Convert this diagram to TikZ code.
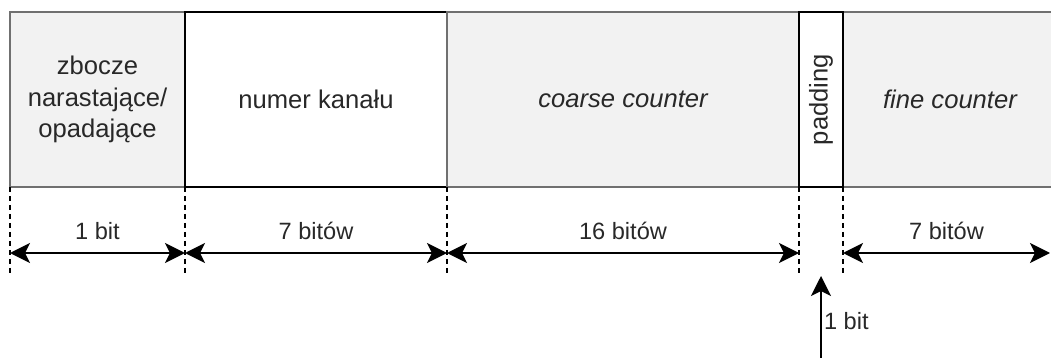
\documentclass[tikz,border=0pt]{standalone}
\usepackage{fontspec}
\setmainfont{Liberation Sans}
\usetikzlibrary{arrows.meta,positioning}

\definecolor{fieldgray}{RGB}{242,242,242}
\definecolor{fieldline}{RGB}{112,112,112}
\definecolor{labeltext}{RGB}{40,40,40}

\tikzset{
  field/.style={rectangle, draw=fieldline, fill=fieldgray, line width=1pt,
    minimum height=87.5pt, inner sep=0pt, outer sep=0pt, align=center,
    text=labeltext, font=\fontsize{12.8}{15.6}\selectfont},
  whitefield/.style={field, draw=black, fill=white},
  guide/.style={dash pattern=on 2.5pt off 2pt, line width=1pt},
  tip/.tip={Stealth[length=10pt, width=10pt, inset=2.5pt]},
  span/.style={tip-tip, line width=1pt},
  spanlabel/.style={midway, above=6pt, inner sep=0pt, text=labeltext,
    font=\fontsize{11.8}{14}\selectfont}
}

\begin{document}
\begin{tikzpicture}[x=0.5pt, y=-0.5pt]
    \useasboundingbox (0,0) rectangle (1051,358);
    \clip (0,0) rectangle (1051,358);
    % Fields of the word
    \node[field, minimum width=87.5pt, anchor=north west] (edge) at (10,12)
        {zbocze\\narastające/\\opadające};
    \node[whitefield, minimum width=131pt, right=0pt of edge] (kanal) {numer kanału};
    \node[field, minimum width=176pt, right=0pt of kanal] (coarse) {\itshape coarse counter};
    \node[field, minimum width=107pt, right=22pt of coarse] (fine) {\itshape fine counter};
    \node[whitefield, minimum width=22pt, right=0pt of coarse] (padding) {};
    \node[rotate=90, text=labeltext, font=\fontsize{12.8}{15}\selectfont] (padtext) at (padding) {padding};
    % Guide lines
    \coordinate (low) at (0,276);
    \coordinate (mid) at (0,253);
    \coordinate (rim) at (1050,253);
    \coordinate (tail) at (821,362);
    \foreach \f/\a in {edge/south west, edge/south east, kanal/south east,
                       coarse/south east, fine/south west}
        \draw[guide] (\f.\a) -- (\f.\a |- low);
    % Bit widths
    \draw[span] (edge.south west |- mid) -- node[spanlabel] {1 bit} (edge.south east |- mid);
    \draw[span] (kanal.south west |- mid) -- node[spanlabel] {7 bitów} (kanal.south east |- mid);
    \draw[span] (coarse.south west |- mid) -- node[spanlabel] {16 bitów} (coarse.south east |- mid);
    \draw[span] (fine.south west |- mid) -- node[spanlabel] {7 bitów} (rim);
    \draw[-tip, line width=1pt] (tail) -- node[pos=0.48, anchor=west, inner sep=1pt,
        text=labeltext, font=\fontsize{11.8}{14}\selectfont] (padbits) {1 bit} (padding.south |- low);
\end{tikzpicture}
\end{document}
